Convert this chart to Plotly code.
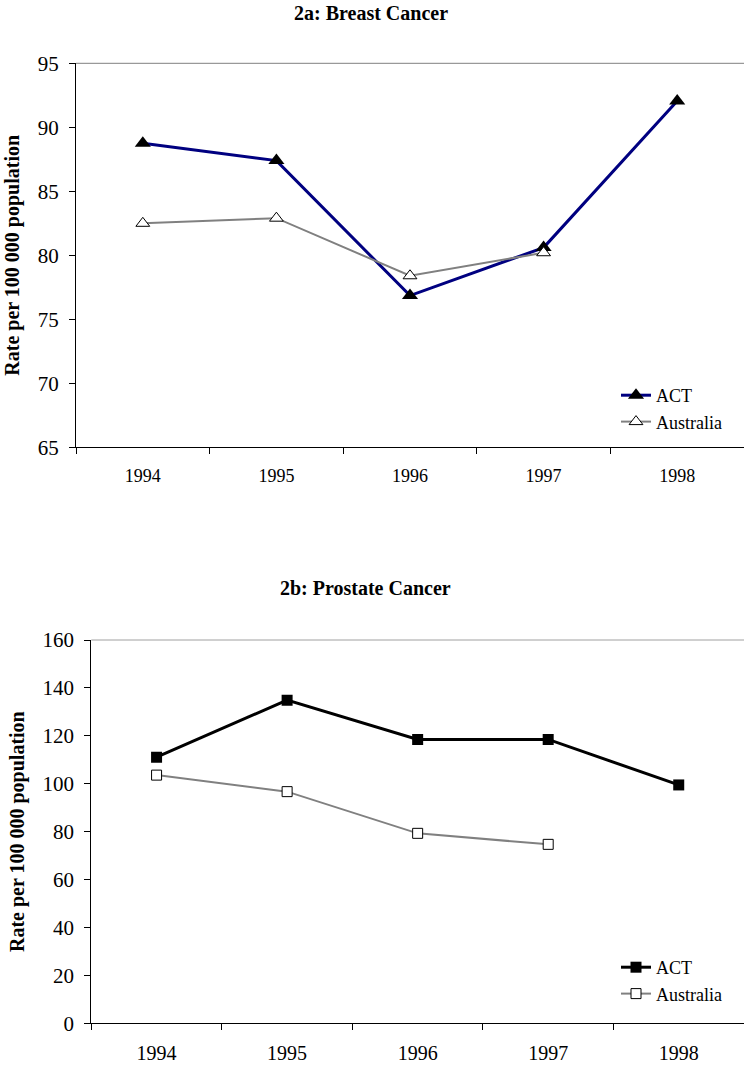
import plotly.graph_objects as go

# ---- data ----
years = ["1994", "1995", "1996", "1997", "1998"]
breast_act = [88.75, 87.4, 76.85, 80.6, 92.05]
breast_aus = [82.5, 82.9, 78.4, 80.2]
prostate_act = [111.1, 134.9, 118.5, 118.5, 99.5]
prostate_aus = [103.6, 96.7, 79.3, 74.7]
title_a = "2a: Breast Cancer"
title_b = "2b: Prostate Cancer"
y_title = "Rate per 100 000 population"

W, H = 744, 1068
FONT = "Liberation Serif, Times New Roman, serif"


def fx(p):
    return p / W


def fy(p):
    return 1 - p / H


fig = go.Figure()

# top chart
fig.add_trace(go.Scatter(
    x=years, y=breast_act, name="ACT", mode="lines+markers",
    line=dict(color="#000080", width=3),
    marker=dict(symbol="triangle-up", size=14, color="black"),
    xaxis="x", yaxis="y", legend="legend"))
fig.add_trace(go.Scatter(
    x=years[:len(breast_aus)], y=breast_aus, name="Australia", mode="lines+markers",
    line=dict(color="#808080", width=2),
    marker=dict(symbol="triangle-up", size=12, color="white",
                line=dict(color="black", width=1)),
    xaxis="x", yaxis="y", legend="legend"))

# bottom chart
fig.add_trace(go.Scatter(
    x=years, y=prostate_act, name="ACT", mode="lines+markers",
    line=dict(color="black", width=3),
    marker=dict(symbol="square", size=11, color="black"),
    xaxis="x2", yaxis="y2", legend="legend2"))
fig.add_trace(go.Scatter(
    x=years[:len(prostate_aus)], y=prostate_aus, name="Australia", mode="lines+markers",
    line=dict(color="#808080", width=2),
    marker=dict(symbol="square", size=10, color="white",
                line=dict(color="black", width=1)),
    xaxis="x2", yaxis="y2", legend="legend2"))

xcommon = dict(type="category", categoryorder="array", categoryarray=years,
               range=[-0.5, 4.5], tickson="boundaries", ticks="outside",
               ticklen=6, tickcolor="black", showline=True, linecolor="black",
               linewidth=1, showgrid=False, zeroline=False, automargin=False,
               ticklabelstandoff=12)
ycommon = dict(ticks="outside", ticklen=6, tickcolor="black", showline=True,
               linecolor="black", linewidth=1, showgrid=False, zeroline=False,
               automargin=False, ticklabelstandoff=6,
               title=dict(text="<b>" + y_title + "</b>", standoff=12,
                          font=dict(family=FONT, size=20, color="black")))

fig.update_layout(
    width=W, height=H,
    margin=dict(l=0, r=0, t=0, b=0),
    paper_bgcolor="white", plot_bgcolor="white",
    font=dict(family=FONT, color="black"),
    xaxis=dict(xcommon, domain=[fx(76), 1.0], anchor="y",
               tickfont=dict(family=FONT, size=18, color="black")),
    yaxis=dict(ycommon, domain=[fy(447.3), fy(63.3)], anchor="x",
               range=[65, 95], dtick=5, tick0=65,
               tickfont=dict(family=FONT, size=21, color="black")),
    xaxis2=dict(xcommon, domain=[fx(91.3), 1.0], anchor="y2",
                tickfont=dict(family=FONT, size=20, color="black")),
    yaxis2=dict(ycommon, domain=[fy(1023.3), fy(640)], anchor="x2",
                range=[0, 160], dtick=20, tick0=0,
                tickfont=dict(family=FONT, size=21, color="black")),
    legend=dict(x=fx(616), y=fy(377), xanchor="left", yanchor="top",
                bgcolor="rgba(0,0,0,0)", itemwidth=30,
                font=dict(family=FONT, size=18, color="black"),
                tracegroupgap=0),
    legend2=dict(x=fx(616), y=fy(949), xanchor="left", yanchor="top",
                 bgcolor="rgba(0,0,0,0)", itemwidth=30,
                 font=dict(family=FONT, size=18, color="black"),
                 tracegroupgap=0),
    showlegend=True,
    annotations=[
        dict(text="<b>" + title_a + "</b>", x=fx(371), y=fy(13),
             xref="paper", yref="paper", xanchor="center", yanchor="middle",
             showarrow=False, font=dict(family=FONT, size=20, color="black")),
        dict(text="<b>" + title_b + "</b>", x=fx(365), y=fy(588),
             xref="paper", yref="paper", xanchor="center", yanchor="middle",
             showarrow=False, font=dict(family=FONT, size=20, color="black")),
    ],
    shapes=[
        dict(type="line", xref="x domain", yref="y domain", x0=0, x1=1, y0=1, y1=1,
             line=dict(color="#808080", width=1)),
        dict(type="line", xref="x2 domain", yref="y2 domain", x0=0, x1=1, y0=1, y1=1,
             line=dict(color="#a0a0a0", width=1)),
    ],
)

fig.write_html("out.html",
               config={"displayModeBar": False},
               post_script="document.body.style.margin='0px';"
                           "document.body.style.overflow='hidden';")
